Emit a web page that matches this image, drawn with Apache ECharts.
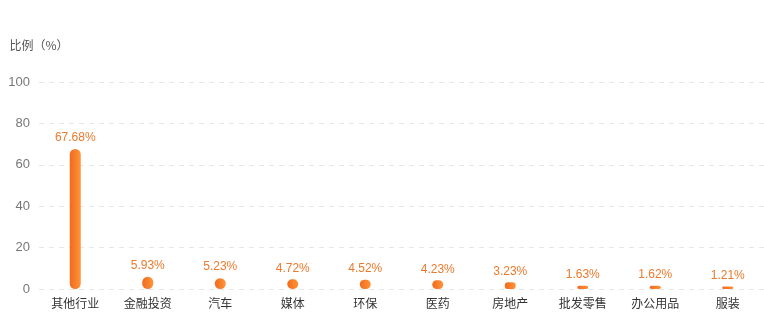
<!DOCTYPE html>
<html><head><meta charset="utf-8">
<script src="https://cdn.jsdelivr.net/npm/echarts@6/dist/echarts.min.js"></script>
<style>html,body{margin:0;padding:0;background:#fff}#c{width:764px;height:326px}</style>
</head><body><div id="c"></div>
<script>
const categories = ['其他行业','金融投资','汽车','媒体','环保','医药','房地产','批发零售','办公用品','服装'];
const values = [67.68, 5.93, 5.23, 4.72, 4.52, 4.23, 3.23, 1.63, 1.62, 1.21];
const yTicks = {min: 0, max: 100, interval: 20};
const yName = '比例（%）';

const chart = echarts.init(document.getElementById('c'));
chart.setOption({
  animation: false,
  grid: {left: 39, width: 731, top: 82, bottom: 37},
  xAxis: {
    type: 'category', data: categories,
    axisLine: {show: false}, axisTick: {show: false},
    axisLabel: {color: '#333', fontSize: 12, margin: 8, fontFamily: 'Noto Sans CJK SC'}
  },
  yAxis: {
    type: 'value', min: yTicks.min, max: yTicks.max, interval: yTicks.interval,
    name: yName, nameGap: 31,
    nameTextStyle: {color: '#555', fontSize: 12, fontFamily: 'Noto Sans CJK SC'},
    axisLine: {show: false}, axisTick: {show: false},
    axisLabel: {color: '#777', fontSize: 13, margin: 9},
    splitLine: {lineStyle: {color: '#e6e6e6', type: [5, 5]}}
  },
  series: [{
    type: 'bar', data: values, barWidth: 11,
    itemStyle: {
      borderRadius: 6,
      color: new echarts.graphic.LinearGradient(0, 0, 1, 0, [
        {offset: 0, color: '#f26a1e'}, {offset: 1, color: '#ff9438'}
      ])
    },
    label: {show: true, position: 'top', distance: 5, color: '#ec7a2c', fontSize: 12,
      formatter: p => p.value.toFixed(2) + '%'}
  }]
});
</script></body></html>
